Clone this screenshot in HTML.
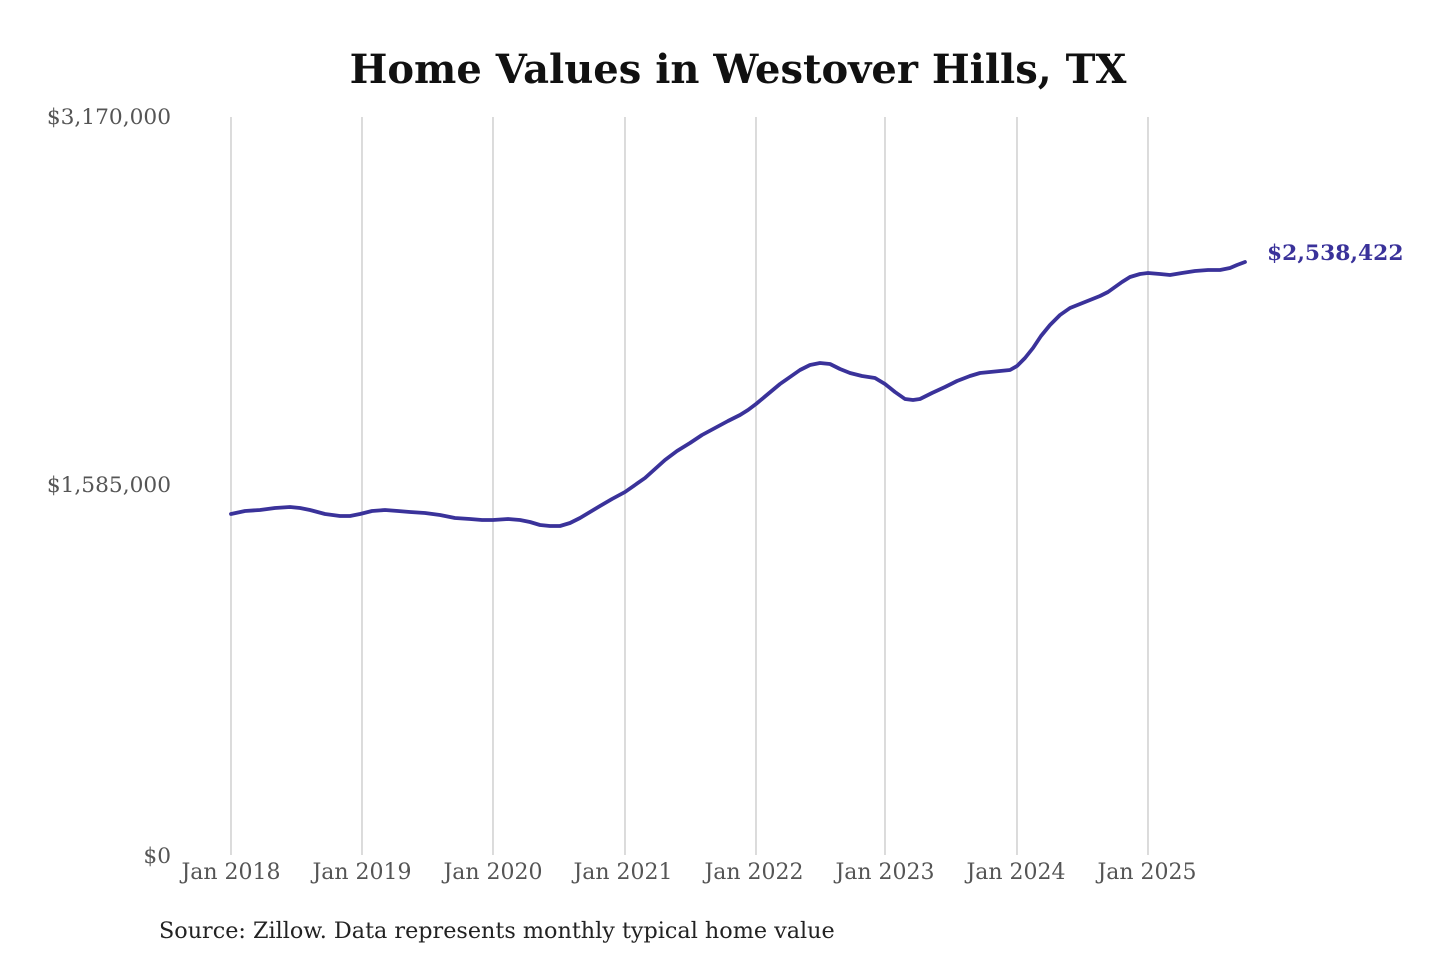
<!DOCTYPE html>
<html><head><meta charset="utf-8"><style>
html,body{margin:0;padding:0;background:#fff;}
svg{display:block;}
</style></head><body>
<svg width="1440" height="960" xmlns="http://www.w3.org/2000/svg" font-family="'DejaVu Serif',serif">
<text x="738" y="83" text-anchor="middle" font-size="40" font-weight="bold" fill="#111">Home Values in Westover Hills, TX</text>
<g stroke="#c8c8c8" stroke-width="1.3">
<line x1="231" y1="117" x2="231" y2="855"/><line x1="362" y1="117" x2="362" y2="855"/>
<line x1="493" y1="117" x2="493" y2="855"/><line x1="625" y1="117" x2="625" y2="855"/>
<line x1="756" y1="117" x2="756" y2="855"/><line x1="885" y1="117" x2="885" y2="855"/>
<line x1="1017" y1="117" x2="1017" y2="855"/><line x1="1148" y1="117" x2="1148" y2="855"/>
</g>
<g font-size="21.7" fill="#555" text-anchor="end">
<text x="171" y="124">$3,170,000</text>
<text x="171" y="492">$1,585,000</text>
<text x="171" y="863">$0</text>
</g>
<g font-size="22" fill="#555" text-anchor="middle">
<text x="231" y="879">Jan 2018</text><text x="362" y="879">Jan 2019</text>
<text x="493" y="879">Jan 2020</text><text x="623" y="879">Jan 2021</text>
<text x="754" y="879">Jan 2022</text><text x="885" y="879">Jan 2023</text>
<text x="1016" y="879">Jan 2024</text><text x="1147" y="879">Jan 2025</text>
</g>
<polyline fill="none" stroke="#3a329a" stroke-width="3.8" stroke-linejoin="round" stroke-linecap="round" points="231,514 245,511 260,510 275,508 290,507 300,508 310,510 325,514 340,516 350,516 360,514 372,511 385,510 398,511 410,512 425,513 440,515 455,518 470,519 482,520 493,520 508,519 520,520 530,522 540,525 550,526 560,526 570,523 580,518 590,512 600,506 612,499 625,492 635,485 645,478 655,469 665,460 677,451 690,443 702,435 715,428 728,421 740,415 748,410 756,404 768,394 780,384 790,377 800,370 810,365 820,363 830,364 840,369 850,373 862,376 875,378 885,384 895,392 905,399 913,400 920,399 932,393 945,387 957,381 970,376 980,373 990,372 1000,371 1010,370 1017,366 1025,358 1033,348 1041,336 1050,325 1060,315 1070,308 1085,302 1100,296 1108,292 1115,287 1122,282 1130,277 1140,274 1148,273 1160,274 1170,275 1182,273 1195,271 1208,270 1220,270 1230,268 1237,265 1245,262"/>
<text x="1267" y="260" font-size="21.8" font-weight="bold" fill="#3a329a">$2,538,422</text>
<text x="159" y="938" font-size="22.3" fill="#222">Source: Zillow. Data represents monthly typical home value</text>
</svg>
</body></html>
